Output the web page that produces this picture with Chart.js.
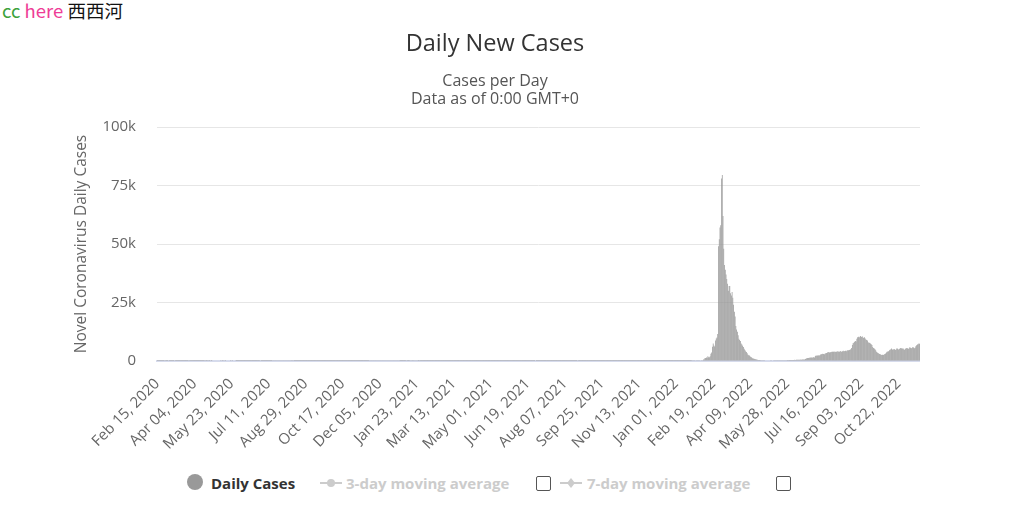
<!DOCTYPE html>
<html>
<head>
<meta charset="utf-8">
<script src="https://cdn.jsdelivr.net/npm/chart.js@4.4.0/dist/chart.umd.min.js"></script>
<style>
  body { margin: 0; background: #fff; font-family: 'Open Sans', sans-serif; }
  #page { position: relative; width: 1010px; height: 508px; overflow: hidden; }
  #mark { position: absolute; left: 2px; top: -3px; font-size: 18.5px; font-family: 'Noto Sans CJK SC', 'Open Sans', sans-serif; }
  #mark .cc { color: #3ca23c; }
  #mark .here { color: #ee3c96; }
  #mark .xxh { color: #111; }
  #wrap { position: absolute; left: 70px; top: 0; width: 850px; height: 460px; }
  .lg { position: absolute; top: 472px; font-size: 15px; font-weight: bold; white-space: nowrap; line-height: 22px; }
  .dot { position: absolute; top: 474px; width: 16px; height: 16px; border-radius: 50%; background: #999; }
  .box { position: absolute; top: 476px; width: 13px; height: 13px; border: 1px solid #555; border-radius: 2px; background: #fff; }
  .sym { position: absolute; top: 475px; }
</style>
</head>
<body>
<div id="page">
  <div id="mark"><span class="cc">cc</span> <span class="here">here</span> <span class="xxh">西西河</span></div>
  <div id="wrap"><canvas id="chartDailyCases"></canvas></div>

  <div class="dot" style="left:187px"></div>
  <div class="lg" style="left:211px;color:#333">Daily Cases</div>

  <svg class="sym" style="left:320px" width="22" height="16"><line x1="0" y1="8" x2="22" y2="8" stroke="#ccc" stroke-width="2"/><circle cx="11" cy="8" r="4" fill="#ccc"/></svg>
  <div class="lg" style="left:346px;color:#ccc">3-day moving average</div>
  <div class="box" style="left:536px"></div>

  <svg class="sym" style="left:560px" width="22" height="16"><line x1="0" y1="8" x2="22" y2="8" stroke="#ccc" stroke-width="2"/><path d="M11 3 L15 8 L11 13 L7 8 Z" fill="#ccc"/></svg>
  <div class="lg" style="left:587px;color:#ccc">7-day moving average</div>
  <div class="box" style="left:776px"></div>
</div>

<script>
const monthNames = ["Jan","Feb","Mar","Apr","May","Jun","Jul","Aug","Sep","Oct","Nov","Dec"];
const firstDay = [2020, 1, 15]; // Feb 15, 2020
const tickEvery = 49;
const yTicks = [0, 25000, 50000, 75000, 100000];

// daily new cases, Feb 15 2020 .. Dec 31 2020
const cases2020 = [
  2,1,2,2,3,3,2,1,2,3,0,5,2,3,1,
  0,2,1,4,1,2,3,1,0,2,2,2,5,4,3,10,10,11,24,48,39,44,48,27,24,51,65,47,59,40,33,
  37,37,43,29,28,24,21,13,7,20,6,10,3,5,4,4,4,0,5,4,2,0,2,1,0,2,4,0,0,0,
  0,0,0,0,0,0,0,0,1,0,1,0,2,0,1,0,0,0,0,0,0,4,0,1,0,0,0,0,1,3,1,
  2,1,2,1,1,4,3,2,4,2,1,1,1,1,2,5,5,5,2,3,2,3,1,5,5,5,5,3,2,0,
  2,1,3,1,4,7,9,24,42,38,34,38,52,48,19,67,58,63,64,62,73,61,113,118,123,128,145,106,118,149,121,
  125,89,80,80,85,95,95,69,72,69,33,62,69,48,33,44,27,27,29,22,24,18,27,21,18,9,24,21,18,21,14,
  8,8,17,13,11,12,6,9,9,14,5,15,4,4,9,6,13,9,6,5,14,5,8,13,11,6,7,10,6,4,
  9,8,4,9,10,10,11,8,7,10,12,14,14,4,6,11,4,20,18,10,6,4,9,11,10,7,7,12,7,3,10,
  3,5,5,4,8,2,17,8,6,15,12,16,16,6,4,15,13,21,26,43,68,80,72,73,92,81,82,84,104,76,
  74,100,82,115,89,104,76,77,103,105,93,97,92,94,66,68,96,87,63,63,78,75,58,63,75,74,64,81,55,66,55
];

const cases2021 = [
  53,37,27,53,33,41,38,49,54,55,48,53,53,61,56,66,61,41,55,107,62,81,76,65,53,52,66,50,46,29,49,
  42,23,26,23,19,14,12,20,15,21,10,11,16,8,17,15,26,20,15,10,10,16,10,10,24,8,18,11,
  13,12,13,12,10,15,21,13,34,16,14,17,15,26,13,17,13,14,8,9,13,12,8,7,11,11,7,5,4,8,7,
  9,7,8,14,10,6,5,15,6,6,15,10,13,8,6,4,10,7,6,8,3,6,3,4,2,4,5,3,9,14,
  3,2,5,1,2,3,2,4,1,1,3,4,1,3,2,1,4,3,2,1,2,2,5,5,3,3,2,4,4,3,5,
  3,1,2,4,2,1,3,3,2,2,1,2,2,1,3,1,2,2,6,2,4,1,4,6,2,2,2,1,0,4,
  1,3,6,2,1,4,5,2,4,1,4,3,7,3,2,6,1,5,2,3,3,5,3,3,2,3,4,3,4,3,6,
  4,4,5,3,2,3,4,5,3,1,2,3,2,1,3,2,5,2,1,2,1,2,3,0,3,2,1,2,4,2,2,
  3,4,3,6,2,3,1,2,2,1,5,2,6,5,2,1,1,2,2,4,2,5,2,1,2,4,1,3,2,1,
  4,2,5,4,4,5,2,3,2,3,5,4,2,7,2,1,4,5,3,2,3,2,4,3,1,3,5,2,3,5,1,
  2,4,3,5,4,2,3,4,3,5,2,4,2,3,1,5,2,4,4,2,2,3,1,2,4,3,2,3,5,2,
  2,5,3,4,6,3,2,5,4,5,3,2,6,3,5,8,4,7,11,5,5,6,8,9,10,7,8,11,9,15,16
];

// Jan 1 2022 .. Nov 19 2022
const cases2022 = [
  10,6,22,14,18,12,27,15,17,19,23,29,26,15,22,35,40,32,45,38,52,140,125,70,82,110,164,114,103,140,120,
  131,164,135,351,342,614,625,1161,1325,1514,1347,2071,1619,1604,2071,3100,3630,6060,7530,6600,6210,8800,9600,10000,11500,49000,52000,57000,
  58000,78000,79500,62000,48000,41000,39000,37000,35000,33000,30000,32000,32000,29000,28000,29500,27000,24000,21000,19000,15000,13500,12500,11000,9500,9000,8500,7500,7000,6500,6000,
  5200,4700,4200,3800,3300,2700,2500,2300,1900,1700,1500,1200,1100,1000,900,800,650,600,450,420,400,380,350,330,300,280,290,270,260,250,
  230,240,250,260,240,270,280,260,250,270,290,280,300,290,280,270,300,310,290,300,320,330,310,340,350,360,340,380,370,390,400,
  420,450,430,460,440,480,500,470,520,550,530,560,520,580,600,560,620,650,600,680,900,1100,1200,1300,1250,1400,1350,1450,1500,1400,
  1550,1600,1500,2100,2300,2200,2400,2350,2500,2300,2800,2900,3000,3100,3000,2900,3200,3300,3400,3600,3700,3800,3600,3700,3800,3900,4000,3900,4100,3800,3900,
  4000,4100,4200,3900,4000,4300,4100,4000,4200,4400,4100,4300,4400,4200,4500,4600,4600,4700,4800,5000,5600,6800,7600,7800,8200,8500,8300,9500,10200,10400,10000,
  10400,10700,10300,10600,10100,9800,10200,9600,9200,9000,8800,8000,7700,7800,7500,7200,6800,6000,5600,5300,5000,4600,4000,3600,3400,3200,3000,2900,2700,2600,
  2700,2600,2800,3000,3200,3600,4000,4100,4200,4600,4800,5000,5300,4900,4800,5100,5000,4700,5000,5400,5200,4900,5100,5300,5600,5500,5200,5400,5000,4800,5200,
  5300,5600,5400,5100,5500,5900,5700,5400,5600,6000,5800,5500,5700,6300,6700,7000,7200,7500,7400
];

const dailyCases = cases2020.concat(cases2021, cases2022);

const dayLabels = dailyCases.map((v, i) => {
  const d = new Date(Date.UTC(firstDay[0], firstDay[1], firstDay[2] + i));
  const dd = String(d.getUTCDate()).padStart(2, '0');
  return monthNames[d.getUTCMonth()] + ' ' + dd + ', ' + d.getUTCFullYear();
});

Chart.defaults.font.family = "'Open Sans', sans-serif";

const ctx = document.getElementById('chartDailyCases').getContext('2d');
new Chart(ctx, {
  type: 'bar',
  data: {
    labels: dayLabels,
    datasets: [{
      label: 'Daily Cases',
      data: dailyCases,
      backgroundColor: 'rgb(150,150,150)',
      barPercentage: 1,
      categoryPercentage: 0.95
    }]
  },
  options: {
    responsive: true,
    maintainAspectRatio: false,
    animation: false,
    layout: { padding: 0 },
    plugins: {
      legend: { display: false },
      tooltip: { enabled: false },
      title: {
        display: true,
        text: 'Daily New Cases',
        color: '#333',
        font: { size: 23.5, weight: 'normal' },
        padding: { top: 30, bottom: 4 }
      },
      subtitle: {
        display: true,
        text: ['Cases per Day', 'Data as of 0:00 GMT+0'],
        color: '#555',
        font: { size: 16, lineHeight: '18px' },
        padding: { top: 9.8, bottom: 19 }
      }
    },
    scales: {
      x: {
        grid: { display: false, drawTicks: false },
        border: { display: true, color: '#d6dbec', width: 2 },
        ticks: {
          autoSkip: false,
          minRotation: 45,
          maxRotation: 45,
          padding: 14,
          color: '#666',
          font: { size: 15 },
          callback: function (value, index) {
            return index % tickEvery === 0 ? this.getLabelForValue(value) : null;
          }
        },
        afterFit: (scale) => {
          scale.height = 99;
          scale.paddingLeft = 0;
          scale.paddingRight = 0;
        }
      },
      y: {
        min: yTicks[0],
        max: yTicks[yTicks.length - 1],
        afterBuildTicks: (scale) => { scale.ticks = yTicks.map(v => ({ value: v })); },
        grid: { color: '#e6e6e6', drawTicks: false },
        border: { display: false },
        ticks: {
          padding: 21,
          color: '#666',
          font: { size: 15 },
          callback: v => v === 0 ? '0' : (v / 1000) + 'k'
        },
        title: {
          display: true,
          text: 'Novel Coronavirus Daily Cases',
          color: '#666',
          font: { size: 15.5 },
          padding: { top: 2, bottom: 0 }
        },
        afterFit: (scale) => { scale.width = 87; }
      }
    }
  }
});
</script>
</body>
</html>
